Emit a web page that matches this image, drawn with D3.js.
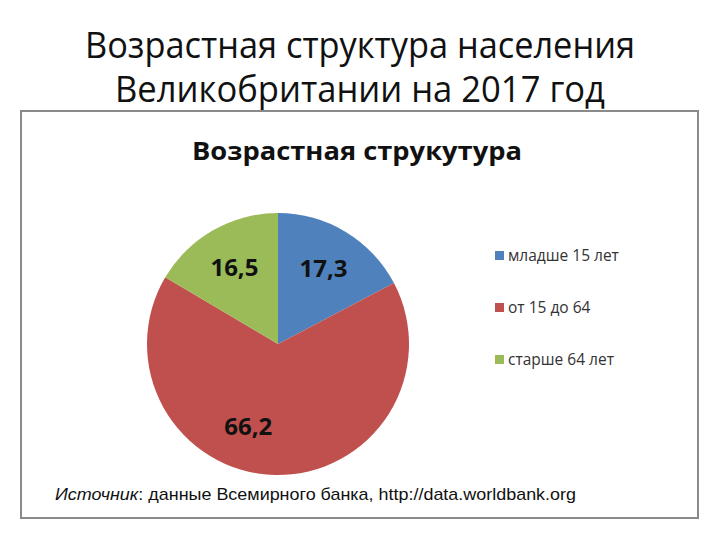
<!DOCTYPE html>
<html>
<head>
<meta charset="utf-8">
<script src="https://cdn.jsdelivr.net/npm/d3@7"></script>
<style>
  body { margin: 0; background: #fff; }
  svg { display: block; }
</style>
</head>
<body>
<svg width="720" height="540"></svg>
<script>
// Data
const categories = ["младше 15 лет", "от 15 до 64", "старше 64 лет"];
const values = [17.3, 66.2, 16.5];
const colors = ["#4F81BD", "#C0504D", "#9BBB59"];
const titleLines = ["Возрастная структура населения", "Великобритании на 2017 год"];
const chartTitle = "Возрастная струкутура";

const svg = d3.select("svg");

// Slide title
svg.selectAll(".slide-title")
  .data(titleLines)
  .enter().append("text")
    .attr("class", "slide-title")
    .attr("x", 360)
    .attr("y", (d, i) => 58 + i * 44)
    .attr("text-anchor", "middle")
    .attr("textLength", (d, i) => i === 0 ? 550 : 490)
    .attr("lengthAdjust", "spacingAndGlyphs")
    .style("font-family", "'Open Sans', sans-serif")
    .style("font-size", "37px")
    .style("fill", "#111")
    .text(d => d);

// Chart frame
svg.append("rect")
    .attr("x", 21)
    .attr("y", 111)
    .attr("width", 677)
    .attr("height", 407)
    .attr("fill", "#fff")
    .attr("stroke", "#8a8a8a")
    .attr("stroke-width", 2);

// Chart title
svg.append("text")
    .attr("x", 357)
    .attr("y", 160)
    .attr("text-anchor", "middle")
    .attr("textLength", 330)
    .attr("lengthAdjust", "spacingAndGlyphs")
    .style("font-family", "'Open Sans', sans-serif")
    .style("font-weight", "bold")
    .style("font-size", "25px")
    .style("fill", "#111")
    .text(chartTitle);

// Pie
const radius = 131;
const g = svg.append("g").attr("transform", "translate(278,344)");

const pie = d3.pie().sort(null).value(d => d);
const arcs = pie(values);

const arc = d3.arc().innerRadius(0).outerRadius(radius);

g.selectAll(".slice")
  .data(arcs)
  .enter().append("path")
    .attr("class", "slice")
    .attr("d", arc)
    .attr("fill", (d, i) => colors[i]);

// Data labels: placed like Excel's best-fit, big slice label nudged round
const labelR = 88;
function labelPos(d) {
  let a = (d.startAngle + d.endAngle) / 2;
  if (d.endAngle - d.startAngle > Math.PI) a += 0.32;
  return [Math.sin(a) * labelR, -Math.cos(a) * labelR];
}

g.selectAll(".label")
  .data(arcs)
  .enter().append("text")
    .attr("class", "label")
    .attr("x", d => labelPos(d)[0])
    .attr("y", d => labelPos(d)[1] + 8)
    .attr("text-anchor", "middle")
    .style("font-family", "'Open Sans', sans-serif")
    .style("font-weight", "bold")
    .style("font-size", "24px")
    .style("fill", "#111")
    .text(d => d3.format(".1f")(d.data).replace(".", ","));

// Legend
const legend = svg.selectAll(".legend")
  .data(categories)
  .enter().append("g")
    .attr("class", "legend")
    .attr("transform", (d, i) => `translate(495,${251 + i * 52})`);

legend.append("rect")
    .attr("width", 9)
    .attr("height", 9)
    .attr("fill", (d, i) => colors[i]);

legend.append("text")
    .attr("x", 13)
    .attr("y", 10)
    .style("font-family", "'Open Sans', sans-serif")
    .style("font-size", "15.5px")
    .style("fill", "#333")
    .text(d => d);

// Source note
const src = svg.append("text")
    .attr("x", 55)
    .attr("y", 500)
    .attr("textLength", 521)
    .attr("lengthAdjust", "spacingAndGlyphs")
    .style("font-family", "'Liberation Sans', Arial, sans-serif")
    .style("font-size", "17px")
    .style("fill", "#111");
src.append("tspan").style("font-style", "italic").text("Источник");
src.append("tspan").text(": данные Всемирного банка, http://data.worldbank.org");
</script>
</body>
</html>
